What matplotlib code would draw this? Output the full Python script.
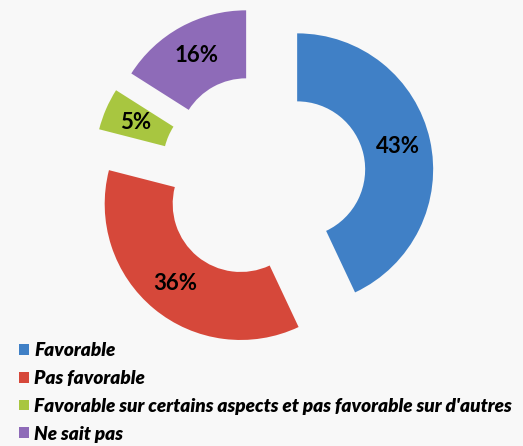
import matplotlib
matplotlib.use("Agg")
import matplotlib.pyplot as plt
from matplotlib.patches import Patch

categories = ["Favorable", "Pas favorable",
              "Favorable sur certains aspects et pas favorable sur d'autres",
              "Ne sait pas"]
values = [43, 36, 5, 16]
colors = ["#4080C6", "#D6483A", "#A8C640", "#8E6BB8"]

W, H = 523, 446
fig = plt.figure(figsize=(W / 100, H / 100), dpi=100)
fig.patch.set_facecolor("#F8F8F8")
ax = fig.add_axes([0, 0, 1, 1])

R = 136
wedges, texts, autotexts = ax.pie(
    values, colors=colors, startangle=90, counterclock=False,
    center=(263, H - 177), radius=R, explode=[35] * 4,
    wedgeprops=dict(width=0.5 * R, edgecolor="none"),
    autopct=lambda p: f"{p:.0f}%", pctdistance=0.76,
    textprops=dict(fontsize=16, fontweight="bold", color="black", family="Lato"),
    frame=True)
ax.set_xlim(0, W)
ax.set_ylim(0, H)
ax.set_aspect("equal")
ax.axis("off")

handles = [Patch(facecolor=c, edgecolor="none") for c in colors]
leg = ax.legend(handles, categories, loc="upper left",
                bbox_to_anchor=(19 / W, 1 - 342 / H), bbox_transform=fig.transFigure,
                frameon=False, handlelength=0.5, handleheight=0.5, handletextpad=0.3,
                labelspacing=0.57, borderaxespad=0, borderpad=0,
                prop=dict(family="Lato", size=13.7, weight="heavy", style="italic"))

fig.savefig("out.png", dpi=100, facecolor=fig.get_facecolor())
